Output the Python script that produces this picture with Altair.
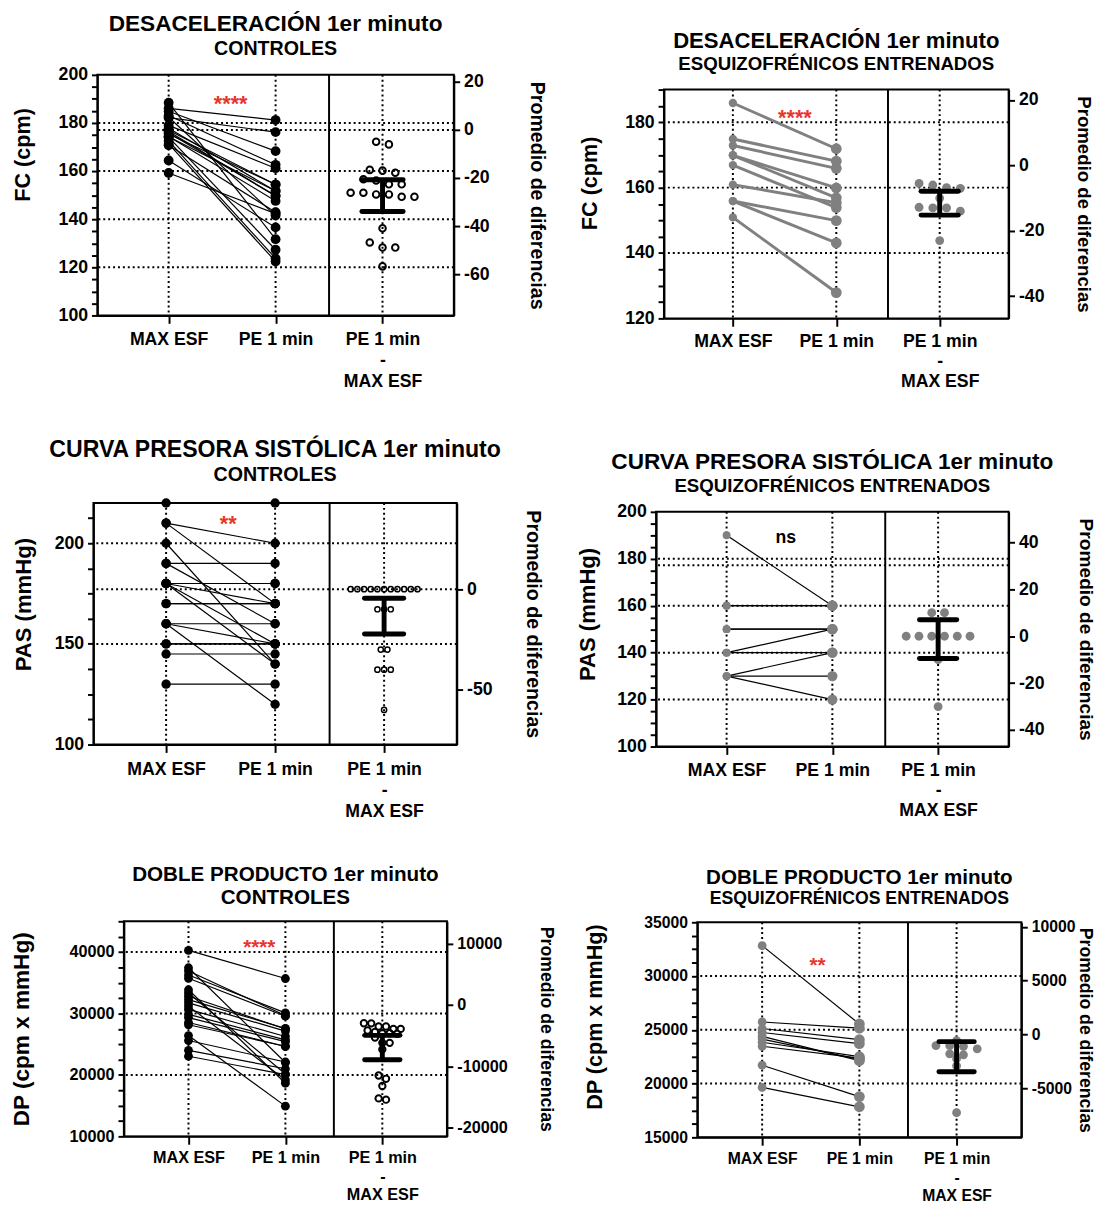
import altair as alt
import pandas as pd

FONT = "Liberation Sans"
GREY = "#808080"
RED = "#e8352c"
XMIN, XMAX = -2 / 3, 8 / 3

CATS = ["MAX ESF", "PE 1 min", ["PE 1 min", "-", "MAX ESF"]]
RIGHT_TITLE = "Promedio de diferencias"

# ---------------- data ----------------
fc_ctrl_max = [186.1, 182.2, 184.9, 159.2, 179.0, 183.1, 175.4, 177.0, 174.3, 177.8,
               175.8, 176.5, 174.4, 170.7, 164.4, 182.4, 174.1, 172.6, 171.3, 188.4]
fc_ctrl_pe = [181.2, 176.2, 168.3, 142.3, 161.2, 162.6, 154.4, 154.4, 151.7, 151.7,
              149.7, 149.7, 147.6, 142.9, 136.6, 141.5, 127.3, 123.7, 122.4, 131.7]
fc_ctrl_ci = [-33.9, -20.7]
fc_ctrl_zero = 177.1

fc_esq_max = [185.9, 174.9, 172.9, 169.9, 166.9, 169.9, 160.9, 155.9, 155.9, 150.9]
fc_esq_pe = [171.9, 168.1, 165.9, 159.9, 153.9, 156.9, 155.4, 149.9, 143.1, 127.9]
fc_esq_ci = [-15.2, -7.9]
fc_esq_zero = 166.8

pas_ctrl_max = [220, 190, 180, 170, 160, 150, 145, 130, 180, 170,
                150, 210, 180, 160, 190, 180, 210, 180, 160, 200]
pas_ctrl_pe = [220, 190, 180, 170, 160, 150, 145, 130, 180, 170,
               150, 200, 170, 150, 160, 150, 170, 140, 120, 140]
pas_ctrl_ci = [-22.3, -4.5]
pas_ctrl_zero = 177.2

pas_esq_max = [190, 160, 160, 150, 150, 140, 140, 130, 130, 130]
pas_esq_pe = [160, 160, 160, 150, 150, 150, 140, 140, 130, 120]
pas_esq_ci = [-9.5, 7.0]
pas_esq_zero = 147.0

dp_ctrl_max = [40270, 37440, 36900, 36260, 35730, 33860, 33330, 32800, 32260, 31730,
               31200, 30660, 29860, 29330, 28530, 28160, 26400, 25600, 24000, 23040]
dp_ctrl_pe = [35690, 22020, 29660, 30090, 29560, 18650, 20140, 27500, 27560, 27130,
              19180, 26260, 25710, 25430, 24630, 24660, 14920, 22100, 21000, 20060]
dp_ctrl_ci = [-8930, -4950]
dp_ctrl_zero = 31390

dp_esq_max = [32820, 25730, 25120, 24750, 24390, 24140, 23840, 23470, 21710, 19640]
dp_esq_pe = [25540, 25150, 24080, 23710, 22130, 22250, 22500, 22370, 18790, 17840]
dp_esq_ci = [-3470, -670]
dp_esq_zero = 24570


def js(v):
    if isinstance(v, list):
        return "[" + ",".join("'" + s + "'" for s in v) + "]"
    return "'" + v + "'"


XLABEL_EXPR = (f"datum.value == 0 ? {js(CATS[0])} : datum.value == 1 ? {js(CATS[1])} : {js(CATS[2])}")


def swarm_offsets(vals, px_per_unit, thr_px, step_px):
    order = sorted(range(len(vals)), key=lambda i: -vals[i])
    rows, cur = [], []
    for i in order:
        if cur and abs(vals[cur[0]] - vals[i]) * px_per_unit < thr_px:
            cur.append(i)
        else:
            if cur:
                rows.append(cur)
            cur = [i]
    if cur:
        rows.append(cur)
    offs = [0.0] * len(vals)
    for r in rows:
        n = len(r)
        for k, i in enumerate(r):
            offs[i] = (k - (n - 1) / 2) * step_px
    return offs


def make_panel(c):
    lo, hi = c["dom"]
    W, H = c["w"], c["h"]
    ppx = W / (XMAX - XMIN)
    ppy = H / (hi - lo)
    mx, pe = c["max"], c["pe"]
    n = len(mx)
    diffs = [round(b - a, 4) for a, b in zip(mx, pe)]
    offs = swarm_offsets(diffs, ppy, c["thr"], c["step"])
    pairs = pd.DataFrame({"id": list(range(n)) * 2,
                          "x": [0] * n + [1] * n,
                          "v": list(mx) + list(pe)})
    ddf = pd.DataFrame({"x": [2 + o / ppx for o in offs], "d": diffs})
    lab = c["lab"]

    ticks = []
    t = lo
    while t <= hi + 1e-9:
        ticks.append(t)
        t += c["tstep"]

    xaxis = alt.Axis(values=[0, 1, 2], labelExpr=XLABEL_EXPR, title=None, grid=False,
                     tickSize=8, labelPadding=c["xlp"], labelFontSize=lab, labelLineHeight=c["lh"],
                     labelOverlap=False, labelFlush=False)
    yextra = {} if c.get("ty") is None else {"titleY": c["ty"]}
    yaxis = alt.Axis(values=ticks, labelExpr=f"datum.value % {c['lmod']} == 0 ? '' + datum.value : ''",
                     title=c["ytitle"], titleFontSize=c["ytfs"], labelFontSize=lab,
                     titlePadding=c["ytp"], grid=False, labelOverlap=False, labelFlush=False, **yextra)
    raxis = alt.Axis(orient="right", values=c["rt"], labelExpr="'' + datum.value",
                     title=RIGHT_TITLE, titleFontSize=c["rtfs"], labelFontSize=lab,
                     titlePadding=c["rtp"], grid=False, labelOverlap=False, labelFlush=False)

    X = alt.X("x:Q", scale=alt.Scale(domain=[XMIN, XMAX], nice=False, zero=False), axis=xaxis)
    YL = alt.Y("v:Q", scale=alt.Scale(domain=[lo, hi], nice=False, zero=False), axis=yaxis)
    ref = c["zero"]
    YR = alt.Y("d:Q", scale=alt.Scale(domain=[lo - ref, hi - ref], nice=False, zero=False), axis=raxis)

    dot = dict(color="black", strokeWidth=2, strokeDash=[2, 3])
    grid_h = alt.Chart(pd.DataFrame({"v": c["grid"]})).mark_rule(**dot).encode(y=YL)
    grid_v = alt.Chart(pd.DataFrame({"x": [0, 1, 2]})).mark_rule(**dot).encode(x=X)
    sep = alt.Chart(pd.DataFrame({"x": [1.5]})).mark_rule(color="black", strokeWidth=2).encode(x=X)
    lines = alt.Chart(pairs).mark_line(color=c["lc"], strokeWidth=c["lw"]).encode(
        x=X, y=YL, detail="id:N")
    p_max = alt.Chart(pairs[pairs.x == 0]).mark_circle(color=c["pc"], opacity=1, size=c["s_max"]).encode(x=X, y=YL)
    p_pe = alt.Chart(pairs[pairs.x == 1]).mark_circle(color=c["pc"], opacity=1, size=c["s_pe"]).encode(x=X, y=YL)
    sig = alt.Chart(pd.DataFrame({"x": [c["sig_x"]], "v": [c["sig_v"]], "t": [c["sig"]]})).mark_text(
        font=FONT, fontWeight="bold", fontSize=c["sig_fs"], color=c["sig_c"], dy=c["sig_dy"]
    ).encode(x=X, y=YL, text="t:N")

    if c["open"]:
        dmark = alt.Chart(ddf).mark_point(shape="circle", filled=False, color="black",
                                          strokeWidth=c["dsw"], size=c["ds"], opacity=1)
    else:
        dmark = alt.Chart(ddf).mark_circle(color=GREY, size=c["ds"], opacity=1)
    dpts = dmark.encode(x=X, y=YR)
    hw = c["cap"] / ppx
    ebar = alt.Chart(pd.DataFrame({"x": [2], "d": [c["ci"][0]], "d2": [c["ci"][1]]})).mark_rule(
        color="black", strokeWidth=5).encode(x=X, y=YR, y2="d2:Q")
    caps = alt.Chart(pd.DataFrame({"x": [2 - hw, 2 - hw], "x2": [2 + hw, 2 + hw], "d": c["ci"]})).mark_rule(
        color="black", strokeWidth=5, strokeCap="round").encode(x=X, x2="x2:Q", y=YR)

    left = alt.layer(grid_h, grid_v, sep, lines, p_max, p_pe, sig)
    right = alt.layer(dpts, ebar, caps)
    title = alt.TitleParams(text=c["title"], subtitle=c["sub"], fontSize=c["tfs"], subtitleFontSize=c["sfs"],
                            font=FONT, subtitleFont=FONT, fontWeight="bold", subtitleFontWeight="bold",
                            color="black", subtitleColor="black", anchor="middle", frame="group",
                            offset=c["toff"], subtitlePadding=c["spad"])
    return alt.layer(left, right).resolve_scale(y="independent").properties(width=W, height=H, title=title)


common_black = dict(lc="black", lw=1.2, pc="black", open=True)
common_grey = dict(pc=GREY, open=False, dsw=0)

p1 = make_panel(dict(common_black, title="DESACELERACIÓN 1er minuto", sub="CONTROLES",
                     max=fc_ctrl_max, pe=fc_ctrl_pe, ci=fc_ctrl_ci, zero=fc_ctrl_zero,
                     dom=[100, 200], w=363, h=245, tstep=5, lmod=20, rt=[-60, -40, -20, 0, 20],
                     grid=[120, 140, 160, 177.1, 180], ytitle="FC (cpm)", ty=81,
                     s_max=100, s_pe=100, ds=45, dsw=2, thr=8, step=13, cap=21,
                     sig="****", sig_x=0.58, sig_v=190.6, sig_fs=22, sig_c=RED, sig_dy=7,
                     lab=18, lh=21, xlp=8, ytfs=22, ytp=24, rtfs=20, rtp=38, tfs=23, sfs=20, toff=7, spad=4))
p2 = make_panel(dict(common_grey, lc=GREY, lw=3, title="DESACELERACIÓN 1er minuto", sub="ESQUIZOFRÉNICOS ENTRENADOS",
                     max=fc_esq_max, pe=fc_esq_pe, ci=fc_esq_ci, zero=fc_esq_zero,
                     dom=[120, 190], w=351, h=233, tstep=5, lmod=20, rt=[-40, -20, 0, 20],
                     grid=[140, 160, 180], ytitle="FC (cpm)", ty=95,
                     s_max=72, s_pe=121, ds=81, thr=8, step=14, cap=19,
                     sig="****", sig_x=0.6, sig_v=183.3, sig_fs=22, sig_c=RED, sig_dy=7,
                     lab=18, lh=20, xlp=7, ytfs=22, ytp=24, rtfs=19, rtp=30, tfs=22.5, sfs=19, toff=7, spad=3))
p3 = make_panel(dict(common_black, title="CURVA PRESORA SISTÓLICA 1er minuto", sub="CONTROLES",
                     max=pas_ctrl_max, pe=pas_ctrl_pe, ci=pas_ctrl_ci, zero=pas_ctrl_zero,
                     dom=[100, 220], w=370, h=246, tstep=12.5, lmod=50, rt=[-50, 0],
                     grid=[150, 177.2, 200], ytitle="PAS (mmHg)", ty=103,
                     s_max=90, s_pe=90, ds=28, dsw=1.5, thr=5, step=6.8, cap=20,
                     sig="**", sig_x=0.57, sig_v=213, sig_fs=22, sig_c=RED, sig_dy=7,
                     lab=18, lh=21.5, xlp=8, ytfs=22.5, ytp=19.5, rtfs=20, rtp=31.5, tfs=23.5, sfs=20, toff=14, spad=4))
p4 = make_panel(dict(common_grey, lc="black", lw=1.2, title="CURVA PRESORA SISTÓLICA 1er minuto",
                     sub="ESQUIZOFRÉNICOS ENTRENADOS",
                     max=pas_esq_max, pe=pas_esq_pe, ci=pas_esq_ci, zero=pas_esq_zero,
                     dom=[100, 200], w=359, h=239, tstep=5, lmod=20, rt=[-40, -20, 0, 20, 40],
                     grid=[120, 140, 160, 177.2, 180], ytitle="PAS (mmHg)", ty=104,
                     s_max=64, s_pe=110, ds=81, thr=5, step=13, cap=19,
                     sig="ns", sig_x=0.56, sig_v=188.8, sig_fs=18, sig_c="black", sig_dy=0,
                     lab=18, lh=20, xlp=8, ytfs=22.5, ytp=18, rtfs=19.5, rtp=32, tfs=23, sfs=19, toff=7, spad=4))
p5 = make_panel(dict(common_black, title="DOBLE PRODUCTO 1er minuto", sub="CONTROLES",
                     max=dp_ctrl_max, pe=dp_ctrl_pe, ci=dp_ctrl_ci, zero=dp_ctrl_zero,
                     dom=[10000, 45000], w=329, h=219, tstep=2500, lmod=10000,
                     rt=[-20000, -10000, 0, 10000],
                     grid=[20000, 30000, 40000], ytitle="DP (cpm x mmHg)", ty=None,
                     s_max=81, s_pe=81, ds=42, dsw=2, thr=6, step=7.5, cap=18,
                     sig="****", sig_x=0.73, sig_v=41800, sig_fs=21, sig_c=RED, sig_dy=7,
                     lab=16.5, lh=18.5, xlp=6, ytfs=23, ytp=36.5, rtfs=18, rtp=30, tfs=21, sfs=21, toff=5.5, spad=2.5))
p6 = make_panel(dict(common_grey, lc="black", lw=1.2, title="DOBLE PRODUCTO 1er minuto",
                     sub="ESQUIZOFRÉNICOS ENTRENADOS",
                     max=dp_esq_max, pe=dp_esq_pe, ci=dp_esq_ci, zero=dp_esq_zero,
                     dom=[15000, 35000], w=330, h=219, tstep=1250, lmod=5000,
                     rt=[-5000, 0, 5000, 10000],
                     grid=[20000, 25000, 30000], ytitle="DP (cpm x mmHg)", ty=96,
                     s_max=81, s_pe=121, ds=81, thr=5, step=14, cap=18,
                     sig="**", sig_x=0.57, sig_v=31600, sig_fs=21, sig_c=RED, sig_dy=7,
                     lab=16, lh=18.5, xlp=6, ytfs=22, ytp=38, rtfs=18, rtp=1, tfs=21, sfs=18, toff=6.5, spad=2.5))


def spacer(w, h):
    return alt.Chart(pd.DataFrame({"x": [0.5]})).mark_point(size=0, opacity=0).encode(
        x=alt.X("x:Q", axis=None, scale=alt.Scale(domain=[0, 1])),
        y=alt.Y("x:Q", axis=None, scale=alt.Scale(domain=[0, 1]))
    ).properties(width=w, height=h, view=alt.ViewBackground(stroke=None))


def shifted(panel, w):
    return alt.hconcat(spacer(w, 1), panel, spacing=0)


left_col = alt.vconcat(
    spacer(1, 1),
    alt.vconcat(alt.vconcat(shifted(p1, 2), shifted(p3, 3), spacing=46),
                shifted(p5, 1), spacing=43),
    spacing=0)
right_col = alt.vconcat(
    spacer(1, 18),
    alt.vconcat(shifted(p2, 11),
                alt.vconcat(shifted(p4, 9), shifted(p6, 16.5), spacing=47),
                spacing=60),
    spacing=0)

chart = alt.hconcat(left_col, right_col, spacing=10).configure(
    font=FONT, padding={"top": -8, "left": 0, "right": 0, "bottom": 0}
).configure_view(stroke="black", strokeWidth=2).configure_axis(
    domainColor="black", domainWidth=2, tickColor="black", tickWidth=2, tickSize=6,
    labelFont=FONT, labelFontWeight="bold", labelColor="black", labelPadding=4,
    titleFont=FONT, titleFontWeight="bold", titleColor="black", grid=False
)

chart.save("out.html", embed_options={"renderer": "svg", "actions": False})
